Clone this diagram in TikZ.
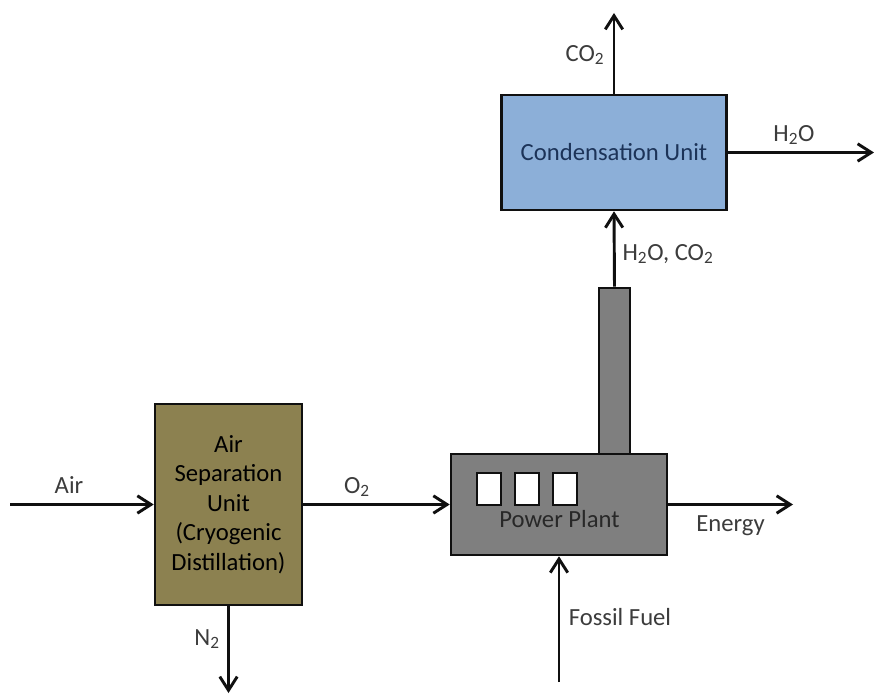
\documentclass[tikz,border=0pt]{standalone}
\usepackage{fontspec}
\setmainfont{Carlito}
\usepackage{xcolor}
\usetikzlibrary{arrows.meta}
\definecolor{paperink}{HTML}{101010}
\definecolor{labelink}{HTML}{3C3C3C}
\definecolor{olivebox}{HTML}{8C8150}
\definecolor{plantgrey}{HTML}{7F7F7F}
\definecolor{condblue}{HTML}{8CAFD8}
\definecolor{condink}{HTML}{1C3358}
\tikzset{
  unitbox/.style={draw=paperink,line width=1.9pt,inner sep=0pt,align=center},
  flow/.style={-{Straight Barb[length=3.6mm,width=4.6mm,line width=2.2pt]},paperink,line width=2.2pt},
  flowlabel/.style={text=labelink,inner sep=0pt}
}

\begin{document}
\begin{tikzpicture}[x=0.75pt,y=-0.75pt,font=\fontsize{18.5}{22.2}\selectfont]
  \useasboundingbox (0,0) rectangle (874,695);
  % units
  \node[unitbox,fill=plantgrey,minimum width=23.3pt,minimum height=124.5pt] (stack) at (614.5,371) {};
  \node[unitbox,fill=plantgrey,minimum width=162pt,minimum height=75.75pt] (plant) at (559,504.5) {};
  \node[unitbox,fill=olivebox,minimum width=110.25pt,minimum height=150.75pt,text=black] (asu) at (228.5,504.5)
    {Air\\Separation\\Unit\\(Cryogenic\\Distillation)};
  \node[unitbox,fill=condblue,minimum width=168.75pt,minimum height=86.25pt,text=condink] (cond) at (614,152.5)
    {Condensation Unit};
  \foreach \nam/\xx in {wina/489,winb/527,winc/565}{
    \node[draw=paperink,line width=1.4pt,fill=white,minimum width=17.5pt,minimum height=23.5pt,inner sep=0pt] (\nam) at (\xx,489) {};
  }
  \node[text=paperink!90,inner sep=0pt] (plantname) at (559.5,519) {Power Plant};
  % free ends
  \coordinate (airin) at (10,504.5);
  \coordinate (nout) at (228.5,693);
  \coordinate (energyout) at (793,504.5);
  \coordinate (fuelin) at (559,682);
  \coordinate (coout) at (614,13);
  \coordinate (waterout) at (874,152.5);
  % flows
  \draw[flow] (airin) -- (asu.west);
  \draw[flow] (asu.east) -- (plant.west);
  \draw[flow] (asu.south) -- (nout);
  \draw[flow] (plant.east) -- (energyout);
  \draw[flow] (fuelin) -- (plant.south);
  \draw[flow] (stack.north) -- (cond.south);
  \draw[flow] (cond.north) -- (coout);
  \draw[flow] (cond.east) -- (waterout);
  % labels
  \node[flowlabel] (airlab) at (69,485) {Air};
  \node[flowlabel] (oxylab) at (357,487) {O\textsubscript{2}};
  \node[flowlabel] (nitlab) at (207,639) {N\textsubscript{2}};
  \node[flowlabel] (enelab) at (730.5,526) {Energy};
  \node[flowlabel] (fuellab) at (620,617) {Fossil Fuel};
  \node[flowlabel] (mixlab) at (668,254) {H\textsubscript{2}O, CO\textsubscript{2}};
  \node[flowlabel] (colab) at (585,55) {CO\textsubscript{2}};
  \node[flowlabel] (waterlab) at (794,135) {H\textsubscript{2}O};
\end{tikzpicture}
\end{document}
